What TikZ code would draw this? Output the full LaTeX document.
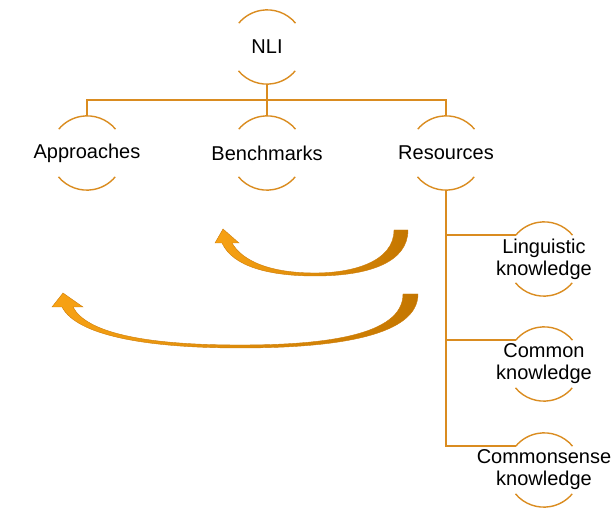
\documentclass[tikz,border=0pt]{standalone}
\usepackage{fontspec}
\setmainfont{Liberation Sans}
\definecolor{ring}{RGB}{218,140,32}
\definecolor{arrlight}{RGB}{248,162,20}
\definecolor{arrdark}{RGB}{196,118,0}
\definecolor{arredge}{RGB}{205,125,10}
\begin{document}
\begin{tikzpicture}[x=1pt,y=1pt,
  ringnode/.style={circle,minimum size=74pt,inner sep=0pt},
  lbl/.style={font=\fontsize{20}{22}\selectfont,align=center,text=black},
  ringline/.style={draw=ring,line width=1.4pt},
  conn/.style={draw=ring,line width=1.3pt},
  blockarrow/.style={left color=arrlight,right color=arrdark,draw=arredge,line width=0.4pt}]
\useasboundingbox (0,0) rectangle (616,528);

\node[ringnode,label={[lbl]center:NLI}] (nli) at (267,481) {};
\node[ringnode,label={[lbl]center:Approaches}] (appr) at (87,375) {};
\node[ringnode,label={[lbl]center:Benchmarks}] (bench) at (267,375) {};
\node[ringnode,label={[lbl]center:Resources}] (res) at (446,375) {};
\node[ringnode,label={[lbl]center:Linguistic\\knowledge}] (ling) at (544,269) {};
\node[ringnode,label={[lbl]center:Common\\knowledge}] (comm) at (544,164) {};
\node[ringnode,label={[lbl]center:Commonsense\\knowledge}] (cs) at (544,58) {};

\foreach \n in {nli,appr,bench,res,ling,comm,cs}{
  \draw[ringline] (\n.40) arc[start angle=40,end angle=140,radius=37];
  \draw[ringline] (\n.220) arc[start angle=220,end angle=320,radius=37];
}

\coordinate (bus) at (267,428);
\draw[conn] (nli.south) -- (bench.north);
\draw[conn] (appr.north) |- (res.north |- bus) -- (res.north);
\draw[conn] (res.south) |- (ling.140);
\draw[conn] (res.south) |- (comm.140);
\draw[conn] (res.south) |- (cs.140);

% block arrows
\path[blockarrow] (394,298) .. controls (394,266) and (352,255) .. (315,255)
  .. controls (272,255) and (243,266) .. (232,285)
  -- (239,285) -- (223,299) -- (215,285) -- (222,285)
  .. controls (233,261) and (270,252) .. (315,252)
  .. controls (370,252) and (408,266) .. (408,298) -- cycle;
\path[blockarrow] (403,234) .. controls (403,192) and (322,183) .. (240,183)
  .. controls (142,183) and (86,196) .. (73,221)
  -- (83,221) -- (63,235) -- (52,221) -- (62,221)
  .. controls (76,194) and (140,180) .. (240,180)
  .. controls (340,180) and (418,193) .. (418,234) -- cycle;
\end{tikzpicture}
\end{document}
